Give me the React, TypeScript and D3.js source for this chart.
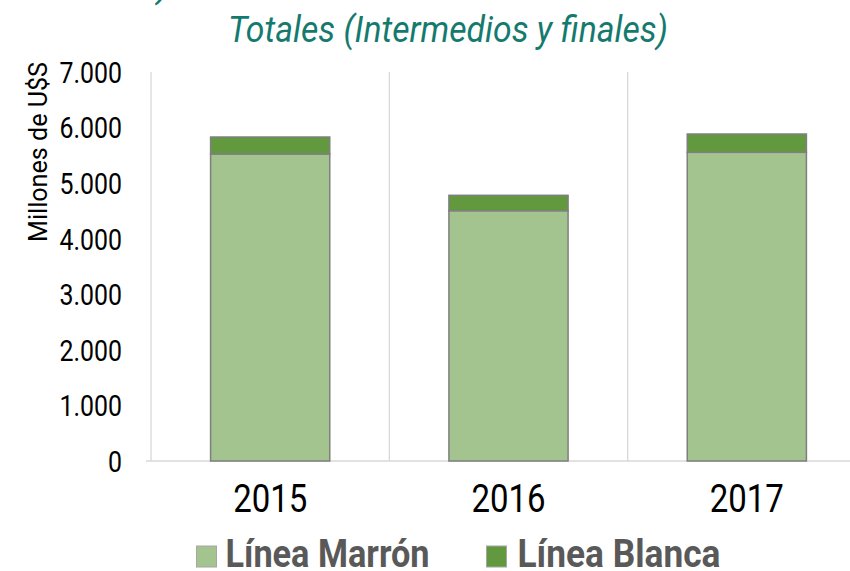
import React from "react";
import * as d3 from "d3";

const years = ["2015", "2016", "2017"];
const lineaMarron = [5525, 4504, 5555];
const lineaBlanca = [305, 277, 329];
const yTicks = [0, 1000, 2000, 3000, 4000, 5000, 6000, 7000];
const seriesNames = ["Línea Marrón", "Línea Blanca"];
const seriesColors = ["#a3c48f", "#62993e"];

const W = 850;
const H = 571;
const FONT = "Roboto, 'Noto Sans', sans-serif";

export default function App() {
  const left = 151;
  const right = 866;
  const top = 72;
  const bottom = 461;

  const x = d3.scaleBand<string>().domain(years).range([left, right]).paddingInner(0.5).paddingOuter(0.25);
  const y = d3.scaleLinear().domain([0, 7000]).range([bottom, top]);
  const step = x.step();

  const stacked = d3.stack<any>().keys(["m", "b"])(
    years.map((yr, i) => ({ year: yr, m: lineaMarron[i], b: lineaBlanca[i] }))
  );

  const fmt = (v: number) => d3.format(",")(v).replace(/,/g, ".");

  return (
    <svg
      width={W}
      height={H}
      style={{ display: "block", background: "#fff", position: "absolute", left: 0, top: 0 }}
    >
      {/* cut-off previous title line */}
      <text x={157} y={-3} fill="#157a6e" fontFamily={FONT} fontStyle="italic" fontSize={37}>)</text>
      <text
        x={228}
        y={42}
        fill="#157a6e"
        fontFamily={FONT}
        fontStyle="italic"
        fontSize={37}
        textLength={440}
        lengthAdjust="spacingAndGlyphs"
      >
        Totales (Intermedios y finales)
      </text>

      {/* vertical gridlines at category boundaries */}
      {d3.range(1, years.length).map((i) => (
        <line key={i} x1={left + i * step} x2={left + i * step} y1={top} y2={bottom} stroke="#d9d9d9" strokeWidth={1.3} />
      ))}
      <line x1={left} x2={left} y1={top} y2={bottom} stroke="#d9d9d9" strokeWidth={1.3} />
      <line x1={146} x2={W} y1={bottom} y2={bottom} stroke="#d9d9d9" strokeWidth={1.3} />

      {/* bars */}
      {stacked.map((s, si) => (
        <g key={si}>
          {s.map((d, i) => (
            <rect
              key={i}
              x={x(years[i])}
              width={x.bandwidth()}
              y={y(d[1])}
              height={y(d[0]) - y(d[1])}
              fill={seriesColors[si]}
              stroke="#7f7f7f"
              strokeWidth={1.5}
            />
          ))}
        </g>
      ))}

      {/* y ticks */}
      {yTicks.map((t) => (
        <text
          key={t}
          transform={`translate(122,${y(t)}) scale(0.83,1)`}
          dy="0.36em"
          textAnchor="end"
          fontFamily={FONT}
          fontSize={30}
          fill="#000"
        >
          {fmt(t)}
        </text>
      ))}

      {/* y label */}
      <text
        transform={`translate(46.5,242) rotate(-90)`}
        fontFamily={FONT}
        fontSize={25}
        fill="#000"
        textLength={180}
        lengthAdjust="spacingAndGlyphs"
      >
        Millones de U$S
      </text>

      {/* x labels */}
      {years.map((yr) => (
        <text
          key={yr}
          transform={`translate(${(x(yr) as number) + x.bandwidth() / 2},511.5) scale(0.845,1)`}
          textAnchor="middle"
          fontFamily={FONT}
          fontSize={39}
          fill="#000"
        >
          {yr}
        </text>
      ))}

      {/* legend */}
      {seriesNames.map((n, i) => {
        const bx = [196.5, 486.5][i];
        const tx = [225.5, 517.5][i];
        const tw = [204, 203][i];
        return (
          <g key={n}>
            <rect x={bx} y={546} width={20} height={21} fill={seriesColors[i]} stroke="#a6a6a6" strokeWidth={1} />
            <text
              x={tx}
              y={567.3}
              fontFamily={FONT}
              fontWeight="bold"
              fontSize={39}
              fill="#595959"
              textLength={tw}
              lengthAdjust="spacingAndGlyphs"
            >
              {n}
            </text>
          </g>
        );
      })}
    </svg>
  );
}
